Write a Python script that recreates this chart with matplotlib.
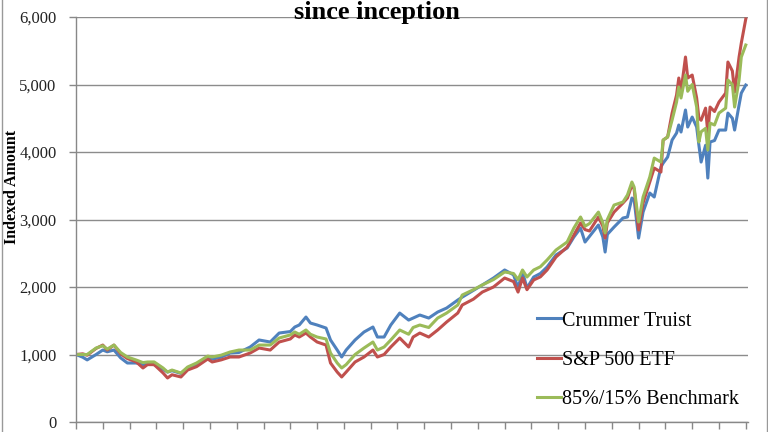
import matplotlib
matplotlib.use("Agg")
import matplotlib.pyplot as plt
from matplotlib.lines import Line2D

months = [0, 3, 5, 9, 12, 14, 17, 20, 23, 27, 30, 32, 35, 39, 41, 43, 47, 50, 54, 59,
          61, 65, 69, 73, 78, 82, 87, 91, 96, 98, 100, 103, 105, 108, 112, 114, 117, 119, 121, 125,
          129, 133, 135, 138, 141, 145, 149, 151, 154, 158, 162, 166, 171, 173, 178, 182, 187, 192, 196, 198,
          200, 202, 205, 208, 211, 215, 220, 223, 226, 228, 230, 234, 236, 237, 238, 241, 245, 247, 249, 250,
          252, 254, 257, 259, 262, 263, 265, 267, 269, 270, 271, 273, 274, 276, 278, 279, 280, 282, 283, 284,
          286, 288, 291, 292, 294, 295, 297, 298, 300]

crummer = [1000, 960, 920, 1000, 1066, 1040, 1066, 950, 874, 874, 850, 860, 850, 780, 740, 760, 720, 800, 860, 950,
           930, 960, 1022, 1030, 1111, 1215, 1185, 1318, 1340, 1407, 1437, 1555, 1466, 1437, 1392, 1215, 1066, 963, 1066, 1215,
           1333, 1407, 1259, 1259, 1437, 1614, 1510, 1540, 1585, 1540, 1629, 1688, 1807, 1850, 1950, 2030, 2133, 2252, 2180, 1985,
           2222, 1985, 2148, 2200, 2296, 2474, 2578, 2740, 2873, 2666, 2750, 2918, 2740, 2518, 2780, 2888, 3022, 3037, 3318, 3290,
           2725, 3110, 3392, 3333, 3777, 3836, 3925, 4177, 4281, 4400, 4296, 4622, 4370, 4518, 4370, 4103, 3851, 4100, 3614, 4148,
           4170, 4325, 4325, 4577, 4500, 4325, 4696, 4873, 4992]

sp500 = [1000, 1010, 990, 1090, 1140, 1066, 1140, 1010, 940, 890, 800, 850, 850, 726, 652, 700, 667, 770, 820, 933,
         889, 920, 963, 963, 1022, 1096, 1066, 1185, 1230, 1289, 1259, 1318, 1259, 1185, 1140, 874, 740, 667, 740, 889,
         963, 1066, 963, 1000, 1111, 1244, 1111, 1259, 1318, 1259, 1363, 1481, 1614, 1733, 1820, 1925, 2000, 2133, 2080, 1925,
         2133, 1960, 2104, 2150, 2252, 2444, 2592, 2770, 2948, 2850, 2830, 3037, 2900, 2725, 2950, 3110, 3244, 3318, 3511, 3450,
         2844, 3244, 3555, 3762, 3703, 4177, 4222, 4577, 4844, 5096, 4900, 5407, 5096, 5140, 4800, 4503, 4470, 4650, 4281, 4666,
         4600, 4740, 4873, 5333, 5200, 4888, 5407, 5614, 5970]

bench = [1000, 1000, 1000, 1096, 1130, 1080, 1140, 1030, 963, 918, 880, 889, 890, 800, 740, 770, 726, 815, 874, 977,
         963, 990, 1037, 1066, 1066, 1140, 1140, 1244, 1290, 1333, 1300, 1363, 1300, 1259, 1230, 1022, 874, 800, 850, 1000,
         1096, 1185, 1066, 1111, 1215, 1363, 1300, 1400, 1437, 1400, 1540, 1614, 1733, 1881, 1960, 2030, 2110, 2222, 2200, 2110,
         2252, 2148, 2252, 2300, 2400, 2548, 2667, 2873, 3037, 2900, 2940, 3110, 2950, 2800, 3000, 3214, 3259, 3363, 3555, 3480,
         2963, 3333, 3629, 3910, 3851, 4177, 4222, 4473, 4740, 4962, 4800, 5140, 4900, 5000, 4666, 4148, 4300, 4350, 4029, 4429,
         4400, 4577, 4650, 5066, 5000, 4666, 5066, 5407, 5585]

series_names = ["Crummer Truist", "S&P 500 ETF", "85%/15% Benchmark"]
series_colors = ["#4F81BD", "#C0504D", "#9BBB59"]
y_ticks = [0, 1000, 2000, 3000, 4000, 5000, 6000]
title = "since inception"
ylabel = "Indexed Amount"

serif = ["Liberation Serif", "DejaVu Serif"]

fig = plt.figure(figsize=(7.68, 4.32), dpi=100)
ax = fig.add_axes([76/768, 1 - 422/432, (748 - 76)/768, (422 - 17)/432])

for vals, name, col in zip([crummer, sp500, bench], series_names, series_colors):
    ax.plot(months, vals, color=col, lw=2.2, label=name, solid_joinstyle="round")

ax.set_xlim(0, 301)
ax.set_ylim(0, 6000)
ax.set_yticks(y_ticks)
ax.set_yticklabels([f"{v:,}" for v in y_ticks], fontfamily=serif, fontsize=12, color="#222222")
ax.set_xticks(range(0, 301, 12))
ax.set_xticklabels([])
ax.tick_params(axis="y", length=5, width=1, color="#888888", pad=9)
ax.tick_params(axis="x", length=5, width=1, color="#888888")
ax.yaxis.grid(True, color="#8c8c8c", lw=1)
ax.set_axisbelow(True)
for s in ["top", "right"]:
    ax.spines[s].set_visible(False)
for s in ["left", "bottom"]:
    ax.spines[s].set_color("#888888")
    ax.spines[s].set_linewidth(1)

fig.text(377/768, 1 - 19/432, title, ha="center", va="baseline",
         fontfamily=serif, fontweight="bold", fontsize=19)
fig.text(12/768, 1 - 187/432, ylabel, rotation=90, ha="center", va="center",
         fontfamily=serif, fontweight="bold", fontsize=11.5)

leg = ax.legend(loc="lower left", bbox_to_anchor=((537 - 76)/672, (422 - 409)/405),
                frameon=False, prop={"family": serif, "size": 14.5},
                handlelength=1.2, handletextpad=0.05, labelspacing=1.0,
                borderaxespad=0, borderpad=0)

fig.add_artist(Line2D([1.5/768, 1.5/768], [0, 1], color="#999999", lw=1, transform=fig.transFigure))
fig.add_artist(Line2D([766.5/768, 766.5/768], [0, 1], color="#999999", lw=1, transform=fig.transFigure))

fig.savefig("out.png", dpi=100)
